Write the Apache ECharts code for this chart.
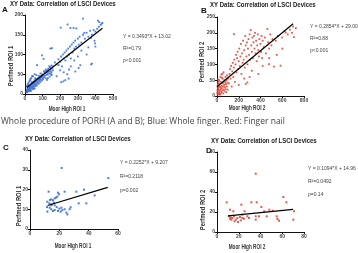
<!DOCTYPE html>
<html>
<head>
<meta charset="utf-8">
<script src="https://cdn.jsdelivr.net/npm/echarts@6/dist/echarts.min.js"></script>
<style>
  html, body { margin: 0; padding: 0; background: #fff; }
  #chart { width: 358px; height: 253px; }
</style>
</head>
<body>
<div id="chart"></div>
<script>
// panel A: whole finger, blue (Moor High ROI 1 vs Perfmed ROI 1)
var pointsA = [
  [8,5],[10,8],[12,12],[14,6],[15,10],[16,15],[18,9],[20,12],[20,18],[22,7],[24,14],[25,20],[26,10],[28,16],[30,12],
  [30,22],[32,18],[34,8],[35,25],[36,14],[38,20],[40,16],[40,28],[42,24],[44,12],[45,20],[46,30],[48,26],[50,18],
  [50,32],[52,22],[54,28],[55,14],[56,35],[58,24],[60,30],[60,20],[62,38],[64,26],[66,32],[68,22],[70,36],[72,28],
  [74,40],[75,32],[78,26],[80,38],[82,34],[85,44],[86,30],[88,40],[90,36],[92,46],[95,42],[96,34],[98,50],[100,44],
  [102,38],[105,48],[108,42],[110,55],[112,46],[115,52],[118,40],[120,58],[122,48],[125,54],[128,60],[130,50],
  [132,64],[135,56],[138,62],[140,52],[142,68],[145,58],[148,64],[150,55],[150,72],[152,48],[155,66],[158,60],
  [160,70],[140,44],[130,40],[125,36],[10,20],[15,25],[25,32],[35,40],[45,45],[55,50],[65,48],[20,28],[30,38],[40,45],
  [12,4],[18,22],[28,8],[38,30],[48,14],[58,40],[78,46],[88,52],[108,58],[118,62],[138,70],[148,50],
  [170,80],[180,75],[190,88],[200,82],[205,95],[210,70],[215,100],[220,90],[225,105],[230,85],[235,110],[240,95],
  [245,115],[250,100],[255,120],[260,90],[265,125],[270,105],[275,130],[280,115],[285,135],[290,120],[300,140],
  [305,125],[310,145],[320,130],[330,150],[340,140],[350,155],[360,145],[370,160],[380,150],[390,162],[400,158],
  [410,165],[420,170],[430,175],[440,180],
  [330,191],[422,182],[435,178],[415,186],[203,168],[258,167],[276,167],[292,166],[242,176],[337,155],[375,142],
  [398,128],[395,135],[400,120],[380,77],[376,75],[314,73],[229,35],[206,30],[218,32],[248,39],[286,57],[305,66],
  [250,62],[191,73],[153,116],[144,115],[97,98],[106,89],[68,73],[30,35],[180,45],[200,60],[220,55],[260,70],
  [240,50],[300,95],[320,110],[280,85],[360,118],[350,100]
];
var lineA = [[10, 16.5], [440, 166.7]];

// panel B: finger nail, red (Moor High ROI 2 vs Perfmed ROI 2)
var pointsB = [
  [5,5],[8,15],[10,25],[12,8],[15,20],[18,30],[20,12],[22,38],[25,18],[28,28],[30,5],[32,22],[35,45],[38,15],
  [40,32],[42,10],[45,25],[48,40],[50,18],[52,55],[55,30],[58,8],[60,42],[62,20],[65,35],[68,50],[70,15],[72,28],
  [75,45],[78,60],[80,22],[82,38],[85,12],[88,50],[90,30],[92,65],[95,42],[98,20],[100,55],[5,30],[3,18],[10,40],
  [15,45],[20,50],[25,8],[2,10],[8,35],[12,52],[18,5],[30,60],[40,68],[50,70],[60,75],[45,58],
  [110,40],[115,70],[120,85],[125,55],[130,95],[135,30],[140,78],[145,105],[150,60],[155,90],[160,115],[165,45],
  [170,100],[175,130],[180,75],[185,120],[190,140],[195,85],[200,110],[205,150],[210,95],[215,125],[220,165],
  [225,70],[230,135],[235,105],[240,175],[245,115],[250,145],[255,90],[260,190],[264,160],[270,125],[275,170],
  [280,100],[285,150],[290,180],[295,130],[300,195],[305,115],[310,209],[315,160],[320,140],[325,185],[330,120],
  [335,170],[340,190],[345,150],[350,200],[355,135],[360,175],[365,110],[370,160],[375,195],[380,145],[385,125],
  [390,180],[400,165],[405,140],[410,190],[415,120],[420,175],[430,155],[440,185],[450,135],[463,212],[470,170],
  [480,150],[490,195],[500,160],[510,180],[524,93],[540,175],[560,190],[585,96],[600,185],[620,205],[631,201],
  [650,195],[670,210],[690,200],[708,186],[700,220],[156,196],[264,38],[279,43],[300,60],[250,55],[200,35],
  [320,80],[420,95],[380,70],[480,120],[550,130],[600,150],[478,101],[725,215]
];
var lineB = [[0, 29.0], [700, 228.8]];

// panel C: whole finger subset
var pointsC = [
  [21.6,30.9],[53.4,25.8],[12.7,18.9],[23.6,18.9],[31.6,18.9],[36.8,19.9],[44.1,17.0],[19.1,18.4],[19.8,17.6],
  [18.6,16.4],[17.7,15.9],[16.8,15.5],[14.5,15.0],[13.6,14.7],[15.7,14.5],[11.8,13.8],[16.4,13.3],[13.2,13.0],
  [14.8,12.5],[16.8,12.0],[11.6,11.1],[18.2,11.1],[21.4,10.8],[27.7,11.0],[33.2,13.0],[38.4,13.0],[13.4,10.8],
  [14.5,10.0],[20.0,10.3],[27.0,10.0],[23.6,10.0],[11.8,8.8],[15.7,9.1],[19.1,9.1],[20.9,8.8],[24.8,8.3],
  [22.0,9.5],[25.5,7.4],[16.8,9.6],[14.5,12.0]
];
var lineC = [[12, 11.9], [53, 21.1]];

// panel D: finger nail subset
var pointsD = [
  [35.6,58.3],[61.0,35.0],[63.8,29.7],[8.9,29.7],[22.4,27.3],[31.6,29.7],[36.5,29.7],[40.8,25.0],[12.0,22.3],
  [15.0,20.7],[25.4,20.7],[43.5,20.7],[48.1,22.3],[51.2,21.3],[70.8,20.7],[11.0,15.7],[12.6,14.7],[14.1,14.0],
  [15.6,15.7],[17.2,12.3],[13.2,12.3],[12.0,13.3],[18.7,14.0],[21.1,15.0],[23.3,14.0],[24.8,13.3],[21.8,11.7],
  [16.2,10.7],[29.4,14.0],[35.6,15.7],[35.6,12.3],[38.6,15.7],[45.7,15.7],[54.9,15.7],[55.5,13.0],[57.0,11.3],
  [70.2,12.3],[27.9,15.7],[19.3,10.0],[23.3,17.3]
];
var lineD = [[10, 16.1], [70, 22.6]];

var xNames = ['Moor High ROI 1', 'Moor High ROI 2', 'Moor High ROI 1', 'Moor High ROI 2'];
var yNames = ['Perfmed ROI 1', 'Perfmed ROI 2', 'Perfmed ROI 1', 'Perfmed ROI 2'];
var xMax = [500, 800, 60, 80], xStep = [100, 200, 20, 20];
var yMax = [200, 250, 40, 80], yStep = [50, 50, 10, 20];
var eqs = [
  ['Y = 0.3493*X + 13.02', 'R²=0.79', 'p<0.001'],
  ['Y = 0.2854*X + 29.00', 'R²=0.88', 'p<0.001'],
  ['Y = 0.2252*X + 9.207', 'R²=0.2118', 'p=0.002'],
  ['Y = 0.1094*X + 14.96', 'R²=0.0492', 'p=0.14']
];

var sans = "'Liberation Sans', Arial, sans-serif";
var grids = [
  {left: 25, top: 15, width: 88, height: 79},
  {left: 217, top: 17, width: 87, height: 79},
  {left: 30, top: 150, width: 88, height: 79},
  {left: 217, top: 152, width: 87, height: 80}
];

var xAxes = [], yAxes = [];
for (var i = 0; i < 4; i++) {
  var axisCommon = {
    gridIndex: i,
    type: 'value',
    axisLine: {show: true, lineStyle: {color: '#111', width: 1}},
    axisTick: {show: true, length: 2, lineStyle: {color: '#111'}},
    axisLabel: {fontFamily: sans, fontWeight: 'bold', fontSize: 5, color: '#444', margin: 2},
    splitLine: {show: false}
  };
  xAxes.push(Object.assign({}, axisCommon, {min: 0, max: xMax[i], interval: xStep[i]}));
  yAxes.push(Object.assign({}, axisCommon, {min: 0, max: yMax[i], interval: yStep[i]}));
}

var blue = '#3b6fd6', red = '#e2493c';
var scatterSets = [pointsA, pointsB, pointsC, pointsD];
var lineSets = [lineA, lineB, lineC, lineD];
var series = [];
for (var j = 0; j < 4; j++) {
  series.push({
    type: 'scatter', xAxisIndex: j, yAxisIndex: j, data: scatterSets[j],
    symbol: 'rect', symbolSize: j < 2 ? 1.8 : 2,
    itemStyle: {color: j % 2 === 0 ? blue : red, opacity: 0.9},
    silent: true
  });
  series.push({
    type: 'line', xAxisIndex: j, yAxisIndex: j, data: lineSets[j],
    symbol: 'none', lineStyle: {color: '#000', width: 1.2}, silent: true, z: 3
  });
}

// texts around the panels (the original uses a condensed face, so squeeze horizontally)
function txt(s, x, y, font, opts) {
  opts = opts || {};
  return {
    type: 'text', x: x, y: y, silent: true,
    rotation: opts.rot || 0, scaleX: opts.sx || 1,
    style: {text: s, font: font, fill: opts.fill || '#222',
      align: opts.align || 'left', verticalAlign: 'middle'}
  };
}
var graphic = [];
var titlePos = [[10, 4], [210, 5], [25, 139], [211, 141]];
var letterPos = [['A', 2, 10], ['B', 201, 11], ['C', 3, 148], ['D', 206, 151]];
var eqPos = [[123, 37, 12], [310, 27, 12], [120, 163, 14], [308, 169, 13]];
var xTitlePos = [[67, 109], [247, 108], [73, 246], [247, 247]];
var yTitlePos = [[11, 66], [202, 62], [19, 206], [203, 210]];
for (var k = 0; k < 4; k++) {
  graphic.push(txt('XY Data: Correlation of LSCI Devices', titlePos[k][0], titlePos[k][1],
    'bold 7px ' + sans, {sx: 0.86}));
  graphic.push(txt(letterPos[k][0], letterPos[k][1], letterPos[k][2], 'bold 8px ' + sans, {fill: '#111'}));
  graphic.push(txt(xNames[k], xTitlePos[k][0], xTitlePos[k][1], 'bold 6.5px ' + sans,
    {sx: 0.72, align: 'center', fill: '#333'}));
  graphic.push(txt(yNames[k], yTitlePos[k][0], yTitlePos[k][1], 'bold 6.5px ' + sans,
    {sx: 0.9, align: 'center', rot: Math.PI / 2, fill: '#333'}));
  for (var m = 0; m < 3; m++) {
    graphic.push(txt(eqs[k][m], eqPos[k][0], eqPos[k][1] + m * eqPos[k][2], '5px ' + sans,
      {fill: '#444'}));
  }
}
graphic.push(txt('Whole procedure of PORH (A and B); Blue: Whole finger. Red: Finger nail', 1, 122,
  '8.5px "Open Sans", sans-serif', {fill: '#444'}));

var chart = echarts.init(document.getElementById('chart'));
chart.setOption({
  animation: false,
  backgroundColor: '#fff',
  grid: grids,
  xAxis: xAxes,
  yAxis: yAxes,
  series: series,
  graphic: graphic
});
</script>
</body>
</html>
